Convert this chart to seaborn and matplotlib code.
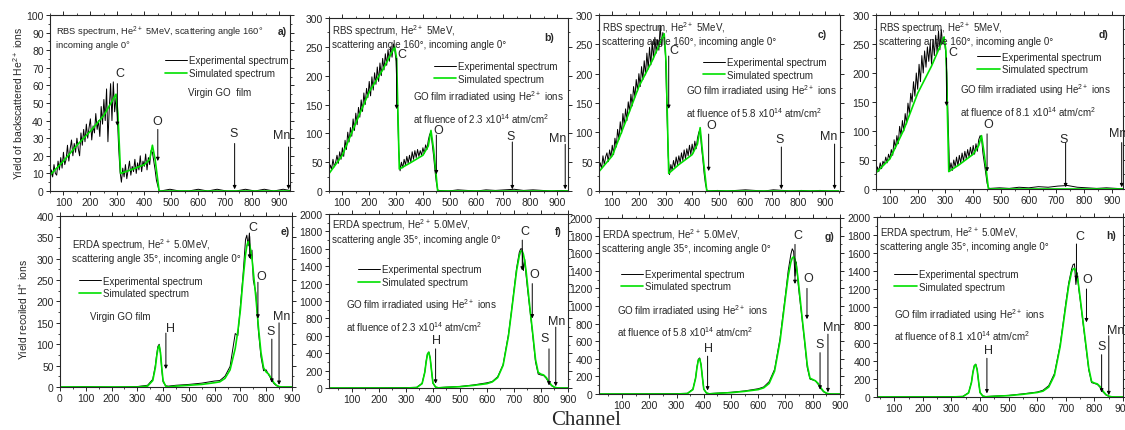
import numpy as np
import pandas as pd
import seaborn as sns
import matplotlib.pyplot as plt
from matplotlib.ticker import MultipleLocator, AutoMinorLocator

sns.set_style("ticks")
plt.rcParams['font.family'] = ['Liberation Sans', 'DejaVu Sans']
plt.rcParams['mathtext.fontset'] = 'custom'
plt.rcParams['mathtext.rm'] = 'Liberation Sans'
plt.rcParams['mathtext.default'] = 'regular'

GREEN = '#00e000'

# RBS spectra: experimental every 5 channels up to the O edge, sparser afterwards
rbs_ch = np.concatenate([np.arange(50, 460, 5), np.arange(460, 951, 35)])
rbs_sim_ch = [50, 100, 150, 200, 250, 295, 302, 312, 350, 400, 420, 430, 440, 455, 950]

exp_a = [5, 12, 8, 15, 10, 9, 17, 12, 19, 13,
         22, 15, 18, 26, 17, 24, 29, 20, 27, 22,
         30, 24, 20, 33, 26, 35, 28, 38, 30, 36,
         41, 29, 37, 33, 44, 35, 40, 31, 48, 38,
         52, 40, 58, 28, 47, 61, 40, 62, 45, 53,
         42, 24, 11, 5, 13, 8, 15, 7, 12, 17,
         9, 14, 11, 18, 10, 16, 12, 20, 11, 17,
         14, 21, 12, 19, 15, 23, 22, 17, 12, 6,
         3, 0,
         0, 1, 0, 0, 1, 0, 1, 0, 0, 1, 0, 1, 0, 1, 0]
sim_a = [9, 17, 26, 34, 43, 55, 44, 10, 12, 15, 18, 26, 18, 0, 0]

exp_b = [32, 45, 38, 55, 42, 50, 62, 48, 68, 55,
         75, 60, 88, 72, 102, 85, 110, 95, 125, 105,
         135, 115, 145, 128, 158, 138, 170, 150, 178, 162,
         190, 165, 198, 175, 205, 185, 215, 190, 222, 200,
         230, 210, 238, 218, 245, 225, 250, 232, 255, 245,
         225, 150, 70, 35, 50, 40, 55, 45, 60, 48,
         62, 50, 68, 55, 70, 58, 72, 60, 70, 62,
         75, 65, 80, 72, 88, 98, 102, 80, 60, 35,
         15, 2,
         1, 0, 2, 1, 0, 2, 1, 2, 3, 1, 2, 1, 0, 1, 0]
sim_b = [30, 62, 118, 172, 210, 250, 230, 38, 48, 62, 78, 105, 72, 0, 0]

exp_c = [35, 48, 38, 60, 45, 58, 65, 50, 70, 58,
         78, 62, 90, 75, 105, 88, 118, 98, 132, 112,
         140, 120, 152, 135, 165, 145, 178, 160, 190, 170,
         200, 178, 212, 190, 222, 198, 235, 208, 245, 215,
         255, 225, 262, 235, 258, 240, 282, 248, 270, 260,
         230, 140, 60, 28, 45, 35, 52, 40, 58, 45,
         60, 48, 65, 52, 70, 55, 72, 60, 78, 62,
         80, 65, 85, 72, 90, 100, 105, 75, 55, 30,
         12, 2,
         0, 1, 0, 1, 2, 1, 0, 2, 1, 0, 1, 0, 1, 0, 0]
sim_c = [33, 60, 118, 178, 222, 268, 220, 30, 45, 62, 80, 108, 62, 0, 0]

exp_d = [25, 38, 30, 45, 35, 48, 42, 55, 45, 60,
         52, 68, 58, 85, 70, 92, 78, 108, 92, 118,
         100, 130, 112, 148, 130, 165, 150, 185, 160, 200,
         172, 215, 185, 230, 200, 238, 210, 245, 220, 252,
         215, 258, 230, 265, 235, 272, 240, 275, 250, 262,
         240, 200, 110, 30, 45, 32, 50, 38, 55, 40,
         58, 45, 62, 48, 65, 52, 68, 55, 72, 58,
         75, 60, 78, 65, 85, 92, 88, 62, 45, 28,
         10, 2,
         1, 2, 1, 3, 2, 4, 3, 5, 6, 3, 2, 1, 2, 1, 0]
sim_d = [28, 52, 102, 165, 212, 262, 238, 30, 42, 60, 75, 92, 60, 0, 0]

# ERDA spectra on a shared channel list
erda_ch = [0, 100, 200, 300, 340, 360, 370, 375, 380, 385, 390, 395, 400,
           410, 420, 450, 500, 550, 600, 620, 640, 660, 680, 690, 700, 710, 720,
           725, 730, 735, 740, 745, 750, 760, 770, 780, 790, 800, 810, 820, 830,
           840, 850, 860, 870, 900]

sim_e = [0, 0, 0, 0, 2, 15, 45, 70, 90, 97, 80, 45, 15,
         2, 0, 2, 4, 6, 10, 12, 20, 40, 90, 130, 180, 250, 310,
         330, 340, 335, 320, 300, 270, 210, 140, 80, 45, 35, 30, 20, 10, 4, 1, 0, 0, 0]
exp_e = [0, 1, 0, 1, 4, 18, 50, 75, 95, 100, 78, 40, 12,
         3, 2, 4, 6, 9, 14, 15, 25, 48, 125, 120, 190, 260, 345,
         355, 330, 360, 300, 320, 250, 220, 130, 70, 38, 40, 28, 18, 8, 3, 1, 0, 0, 0]

sim_f = [0, 0, 0, 0, 5, 50, 180, 300, 390, 410, 340, 200, 60,
         10, 2, 8, 15, 30, 50, 70, 120, 260, 600, 850, 1100, 1350, 1520,
         1570, 1580, 1540, 1460, 1350, 1200, 900, 620, 330, 180, 160, 150, 120, 70, 30, 10, 2, 0, 0]
exp_f = [0, 2, 3, 5, 8, 55, 185, 310, 395, 415, 345, 195, 55,
         12, 5, 10, 18, 35, 60, 75, 130, 270, 620, 860, 1120, 1380, 1560,
         1600, 1600, 1350, 1480, 1300, 1150, 880, 600, 300, 160, 150, 145, 110, 60, 25, 8, 2, 0, 0]

sim_g = [0, 0, 0, 0, 5, 50, 180, 300, 385, 400, 330, 190, 55,
         10, 2, 8, 15, 30, 50, 70, 120, 260, 600, 850, 1100, 1340, 1500,
         1545, 1560, 1530, 1450, 1340, 1200, 900, 620, 330, 180, 165, 150, 120, 70, 30, 10, 2, 0, 0]
exp_g = [0, 2, 3, 5, 8, 55, 185, 310, 395, 410, 335, 185, 55,
         12, 5, 10, 20, 35, 60, 80, 140, 280, 630, 880, 1130, 1400, 1590,
         1650, 1620, 1340, 1500, 1300, 1150, 880, 600, 300, 170, 160, 150, 110, 60, 25, 8, 2, 0, 0]

sim_h = [0, 0, 0, 0, 4, 45, 160, 270, 345, 360, 300, 170, 50,
         9, 2, 8, 15, 30, 50, 65, 110, 240, 560, 790, 1020, 1240, 1390,
         1420, 1430, 1400, 1330, 1230, 1100, 840, 580, 320, 170, 155, 145, 115, 65, 28, 9, 2, 0, 0]
exp_h = [0, 2, 3, 5, 7, 48, 165, 275, 350, 365, 305, 165, 48,
         11, 5, 10, 18, 35, 55, 75, 125, 260, 580, 810, 1050, 1270, 1420,
         1470, 1480, 1250, 1380, 1200, 1080, 820, 560, 300, 160, 150, 140, 105, 55, 22, 8, 2, 0, 0]

rbs_head = "RBS spectrum, He$^{2+}$ 5MeV,\nscattering angle 160°, incoming angle 0°"
erda_head = "ERDA spectrum, He$^{2+}$ 5.0MeV,\nscattering angle 35°, incoming angle 0°"

def fluence(v):
    return "GO film irradiated using He$^{2+}$ ions\nat fluence of " + v + " x10$^{14}$ atm/cm$^2$"

panels = [
    dict(rect=[0.0444, 0.5545, 0.2133, 0.4084], ch=rbs_ch, exp=exp_a, sch=rbs_sim_ch, sim=sim_a,
         xlim=(50, 940), ylim=(0, 100), xmaj=100, ymaj=10, tag='a)', tagpos=(0.97, 0.91),
         head="RBS spectrum, He$^{2+}$ 5MeV, scattering angle 160°\nincoming angle 0°", headpos=(0.025, 0.95),
         headsize=6.7,
         leg=(0.48, 0.77), note="Virgin GO  film", notepos=(0.575, 0.56),
         arrows=[('C', 300, 61, 37, 310, 67), ('O', 450, 35, 17, 447, 40),
                 ('S', 735, 27, 1, 730, 33), ('Mn', 935, 25, 1, 910, 32)]),
    dict(rect=[0.2924, 0.5545, 0.2124, 0.4014], ch=rbs_ch, exp=exp_b, sch=rbs_sim_ch, sim=sim_b,
         xlim=(50, 940), ylim=(0, 300), xmaj=100, ymaj=50, tag='b)', tagpos=(0.92, 0.89),
         head=rbs_head, headpos=(0.013, 0.975), headsize=7,
         leg=(0.44, 0.75), note=fluence("2.3"), notepos=(0.35, 0.49),
         arrows=[('C', 302, 230, 142, 322, 238), ('O', 450, 97, 29, 458, 105),
                 ('S', 733, 85, 3, 725, 96), ('Mn', 930, 81, 3, 903, 92)]),
    dict(rect=[0.5324, 0.5545, 0.2142, 0.4084], ch=rbs_ch, exp=exp_c, sch=rbs_sim_ch, sim=sim_c,
         xlim=(50, 955), ylim=(0, 300), xmaj=100, ymaj=50, tag='c)', tagpos=(0.925, 0.89),
         head=rbs_head, headpos=(0.013, 0.975), headsize=7,
         leg=(0.43, 0.76), note=fluence("5.8"), notepos=(0.36, 0.515),
         arrows=[('C', 312, 230, 140, 332, 240), ('O', 462, 97, 34, 470, 112),
                 ('S', 735, 75, 3, 730, 88), ('Mn', 935, 80, 3, 913, 94)]),
    dict(rect=[0.7787, 0.5592, 0.2196, 0.4037], ch=rbs_ch, exp=exp_d, sch=rbs_sim_ch, sim=sim_d,
         xlim=(50, 940), ylim=(0, 300), xmaj=100, ymaj=50, tag='d)', tagpos=(0.92, 0.89),
         head=rbs_head, headpos=(0.013, 0.975), headsize=7,
         leg=(0.41, 0.79), note=fluence("8.1"), notepos=(0.34, 0.515),
         arrows=[('C', 304, 226, 143, 328, 236), ('O', 450, 95, 30, 455, 112),
                 ('S', 733, 80, 3, 725, 87), ('Mn', 935, 80, 3, 922, 97)]),
    dict(rect=[0.0533, 0.0998, 0.2062, 0.3968], ch=erda_ch, exp=exp_e, sch=erda_ch, sim=sim_e,
         xlim=(0, 900), ylim=(0, 400), xmaj=100, ymaj=50, tag='e)', tagpos=(0.97, 0.91),
         head=erda_head, headpos=(0.05, 0.88), headsize=7,
         leg=(0.08, 0.65), note="Virgin GO film", notepos=(0.13, 0.415),
         arrows=[('C', 736, 352, 300, 750, 374), ('O', 768, 245, 160, 782, 260),
                 ('H', 411, 126, 42, 430, 139), ('S', 822, 112, 10, 818, 132),
                 ('Mn', 850, 150, 5, 860, 167)]),
    dict(rect=[0.2924, 0.0974, 0.2124, 0.4037], ch=erda_ch, exp=exp_f, sch=erda_ch, sim=sim_f,
         xlim=(15, 900), ylim=(0, 2000), xmaj=100, ymaj=200, tag='f)', tagpos=(0.96, 0.9),
         head=erda_head, headpos=(0.013, 0.985), headsize=7,
         leg=(0.12, 0.71), note=fluence("2.3"), notepos=(0.07, 0.42),
         arrows=[('C', 731, 1700, 1350, 742, 1810), ('O', 768, 1200, 800, 775, 1310),
                 ('H', 410, 450, 50, 415, 550), ('S', 830, 450, 30, 815, 570),
                 ('Mn', 855, 700, 20, 858, 770)]),
    dict(rect=[0.5324, 0.0835, 0.2142, 0.4084], ch=erda_ch, exp=exp_g, sch=erda_ch, sim=sim_g,
         xlim=(15, 900), ylim=(0, 2000), xmaj=100, ymaj=200, tag='g)', tagpos=(0.955, 0.9),
         head=erda_head, headpos=(0.013, 0.955), headsize=7,
         leg=(0.09, 0.71), note=fluence("5.8"), notepos=(0.075, 0.42),
         arrows=[('C', 735, 1700, 1250, 746, 1805), ('O', 779, 1200, 850, 783, 1317),
                 ('H', 414, 430, 40, 417, 521), ('S', 827, 470, 50, 827, 567),
                 ('Mn', 856, 680, 20, 868, 760)]),
    dict(rect=[0.7796, 0.0766, 0.2187, 0.4176], ch=erda_ch, exp=exp_h, sch=erda_ch, sim=sim_h,
         xlim=(40, 900), ylim=(0, 2000), xmaj=100, ymaj=200, tag='h)', tagpos=(0.95, 0.9),
         head=erda_head, headpos=(0.013, 0.96), headsize=7,
         leg=(0.07, 0.71), note=fluence("8.1"), notepos=(0.07, 0.405),
         arrows=[('C', 737, 1700, 1300, 748, 1788), ('O', 772, 1200, 830, 776, 1310),
                 ('H', 424, 430, 40, 428, 521), ('S', 825, 470, 50, 825, 566),
                 ('Mn', 850, 680, 20, 873, 743)]),
]

fig = plt.figure(figsize=(11.25, 4.31), dpi=100)

for p in panels:
    ax = fig.add_axes(p['rect'])
    sns.lineplot(x=p['ch'], y=p['exp'], color='black', lw=0.7, ax=ax,
                 estimator=None, sort=False, label='Experimental spectrum')
    sns.lineplot(x=p['sch'], y=p['sim'], color=GREEN, lw=1.2, ax=ax,
                 estimator=None, sort=False, label='Simulated spectrum')
    ax.set_xlim(*p['xlim'])
    ax.set_ylim(*p['ylim'])
    ax.xaxis.set_major_locator(MultipleLocator(p['xmaj']))
    ax.yaxis.set_major_locator(MultipleLocator(p['ymaj']))
    ax.xaxis.set_minor_locator(AutoMinorLocator(2))
    ax.yaxis.set_minor_locator(AutoMinorLocator(2))
    ax.tick_params(which='both', direction='out', top=True, right=True, labelsize=7.5, pad=1.5)
    ax.tick_params(which='major', length=3, width=0.7)
    ax.tick_params(which='minor', length=1.5, width=0.6)
    for s in ax.spines.values():
        s.set_linewidth(0.8)
        s.set_visible(True)
    ax.set_xlabel('')
    ax.set_ylabel('')

    ax.legend(loc='upper left', bbox_to_anchor=p['leg'], frameon=False, fontsize=7,
              handlelength=2.3, handletextpad=0.2, labelspacing=0.25,
              borderpad=0, borderaxespad=0)

    ax.text(*p['headpos'], p['head'], transform=ax.transAxes, fontsize=p['headsize'],
            ha='left', va='top', linespacing=1.15)
    ax.text(*p['tagpos'], p['tag'], transform=ax.transAxes, fontsize=7.5,
            fontweight='bold', ha='center', va='center')
    ax.text(*p['notepos'], p['note'], transform=ax.transAxes, fontsize=7,
            ha='left', va='center', linespacing=1.6)

    for name, x, y0, y1, lx, ly in p['arrows']:
        ax.annotate('', xy=(x, y1), xytext=(x, y0),
                    arrowprops=dict(arrowstyle='-|>', color='black', lw=0.7,
                                    mutation_scale=5, shrinkA=0, shrinkB=0))
        ax.text(lx, ly, name, fontsize=9, ha='center', va='center')

fig.text(0.016, 0.76, "Yield of backscattered He$^{2+}$ ions", rotation=90,
         ha='center', va='center', fontsize=7.5)
fig.text(0.022, 0.281, "Yield recoiled H$^{+}$ ions", rotation=90,
         ha='center', va='center', fontsize=7.5)
fig.text(0.521, 0.025, "Channel", family=['Liberation Serif', 'DejaVu Serif'],
         ha='center', va='center', fontsize=15)

fig.savefig('out.png', dpi=100)
